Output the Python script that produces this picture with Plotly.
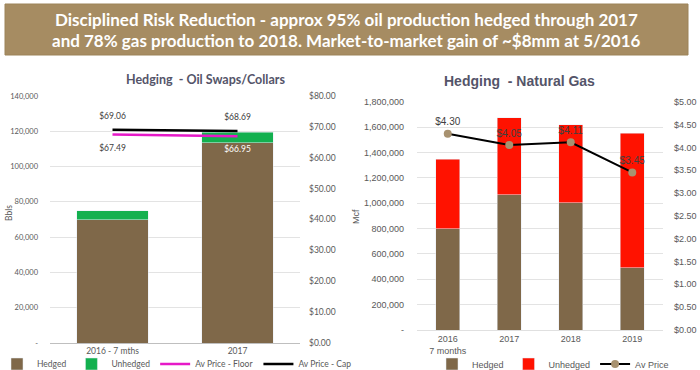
import plotly.graph_objects as go

W, H = 700, 370

# ---- data ----
oil_cats = ["2016 - 7 mths", "2017"]
oil_hedged = [70000, 113500]
oil_unhedged = [5000, 6000]
oil_floor = [67.49, 66.95]
oil_cap = [69.06, 68.69]

gas_cats = ["2016<br>7 months", "2017", "2018", "2019"]
gas_hedged = [800000, 1065000, 1005000, 490000]
gas_unhedged = [545000, 610000, 615000, 1060000]
gas_price = [4.30, 4.05, 4.11, 3.45]

oil_left_ticks = [0, 20000, 40000, 60000, 80000, 100000, 120000, 140000]
oil_left_text = ["-", "20,000", "40,000", "60,000", "80,000", "100,000", "120,000", "140,000"]
gas_left_ticks = [0, 200000, 400000, 600000, 800000, 1000000, 1200000, 1400000, 1600000, 1800000]
gas_left_text = ["-", "200,000", "400,000", "600,000", "800,000", "1,000,000",
                 "1,200,000", "1,400,000", "1,600,000", "1,800,000"]

title_lines = ["Disciplined Risk Reduction - approx 95% oil production hedged through 2017",
               "and 78% gas production to 2018. Market-to-market gain of ~$8mm at 5/2016"]

BROWN = "#7F6849"
GREEN = "#13B04F"
RED = "#FF1200"
MAGENTA = "#E619C8"
TAN = "#A68C62"
GRID = "#E3E3E3"
TICK = "#595959"

LFONT = "Lato"
RFONT = "Liberation Sans"

def px_x(p):
    return p / W

def px_y(p):
    return (H - p) / H

fig = go.Figure()

# ---- left chart ----
fig.add_trace(go.Bar(x=oil_cats, y=oil_hedged, name="Hedged", marker_color=BROWN,
                     xaxis="x", yaxis="y", legend="legend", width=0.57))
fig.add_trace(go.Bar(x=oil_cats, y=oil_unhedged, name="Unhedged", marker_color=GREEN,
                     xaxis="x", yaxis="y", legend="legend", width=0.57))
fig.add_trace(go.Scatter(x=oil_cats, y=oil_floor, name="Av Price - Floor", mode="lines",
                         line=dict(color=MAGENTA, width=2.5),
                         xaxis="x", yaxis="y2", legend="legend"))
fig.add_trace(go.Scatter(x=oil_cats, y=oil_cap, name="Av Price - Cap", mode="lines",
                         line=dict(color="black", width=2.5),
                         xaxis="x", yaxis="y2", legend="legend"))
# price labels (text only)
fig.add_trace(go.Scatter(x=oil_cats, y=oil_floor, mode="markers+text", showlegend=False,
                         marker=dict(size=14, color="rgba(0,0,0,0)"),
                         text=["$%.2f" % v for v in oil_floor], textposition="bottom center",
                         textfont=dict(family=LFONT, size=8.5, color=["#404040", "white"]),
                         hoverinfo="skip", xaxis="x", yaxis="y2"))
fig.add_trace(go.Scatter(x=oil_cats, y=oil_cap, mode="markers+text", showlegend=False,
                         marker=dict(size=12, color="rgba(0,0,0,0)"),
                         text=["$%.2f" % v for v in oil_cap], textposition="top center",
                         textfont=dict(family=LFONT, size=8.5, color="#404040"),
                         hoverinfo="skip", xaxis="x", yaxis="y2"))

# ---- right chart ----
fig.add_trace(go.Bar(x=gas_cats, y=gas_hedged, name="Hedged", marker_color=BROWN,
                     xaxis="x2", yaxis="y3", legend="legend2", width=0.39))
fig.add_trace(go.Bar(x=gas_cats, y=gas_unhedged, name="Unhedged", marker_color=RED,
                     xaxis="x2", yaxis="y3", legend="legend2", width=0.39))
fig.add_trace(go.Scatter(x=gas_cats, y=gas_price, name="Av Price", mode="lines+markers+text",
                         line=dict(color="black", width=2),
                         marker=dict(color="#A89270", size=8),
                         text=["$%.2f" % v for v in gas_price], textposition="top center",
                         textfont=dict(family=RFONT, size=10, color="#404040"),
                         xaxis="x2", yaxis="y4", legend="legend2"))

ldom_x = [px_x(50), px_x(300)]
ldom_y = [px_y(343), px_y(96)]
rdom_x = [px_x(417), px_x(663)]
rdom_y = [px_y(330), px_y(101.7)]

def ann(text, x, y, font):
    return dict(text=text, xref="paper", yref="paper", x=px_x(x), y=px_y(y),
                xanchor="center", yanchor="middle", showarrow=False, font=font)

annotations = [
    ann("<b>" + title_lines[0] + "</b>", 346, 19, dict(family=LFONT, size=17, color="white")),
    ann("<b>" + title_lines[1] + "</b>", 346, 41, dict(family=LFONT, size=17, color="white")),
    ann("<b>Hedging  - Oil Swaps/Collars</b>", 205, 79, dict(family=LFONT, size=12.5, color="#545469")),
    ann("<b>Hedging  - Natural Gas</b>", 519, 81, dict(family=RFONT, size=14, color="#545469")),
]
bbls = ann("Bbls", 9, 213, dict(family=LFONT, size=8.5, color=TICK))
bbls["textangle"] = -90
mcf = ann("Mcf", 356, 217, dict(family=RFONT, size=9, color=TICK))
mcf["textangle"] = -90
annotations += [bbls, mcf]

fig.update_layout(
    width=W, height=H, margin=dict(l=0, r=0, t=0, b=0, autoexpand=False),
    paper_bgcolor="white", plot_bgcolor="white",
    barmode="stack",
    xaxis=dict(domain=ldom_x, anchor="y", showgrid=False, showline=True, linecolor="#BFBFBF",
               tickfont=dict(family=LFONT, size=8.5, color=TICK), ticks="", automargin=False),
    yaxis=dict(domain=ldom_y, anchor="x", range=[0, 140000], tickvals=oil_left_ticks,
               ticktext=oil_left_text, gridcolor=GRID, zeroline=False, automargin=False,
               tickfont=dict(family=LFONT, size=7.5, color=TICK), ticklabelstandoff=11),
    yaxis2=dict(overlaying="y", side="right", anchor="x", range=[0, 80], dtick=10,
                tickformat="$.2f", showgrid=False, zeroline=False, automargin=False,
                tickfont=dict(family=LFONT, size=8.5, color=TICK), ticklabelstandoff=8),
    xaxis2=dict(domain=rdom_x, anchor="y3", showgrid=False, showline=True, linecolor="#E0E0E0",
                tickfont=dict(family=RFONT, size=9, color=TICK), ticks="", automargin=False),
    yaxis3=dict(domain=rdom_y, anchor="x2", range=[0, 1800000], tickvals=gas_left_ticks,
                ticktext=gas_left_text, gridcolor=GRID, zeroline=False, automargin=False,
                tickfont=dict(family=RFONT, size=9, color=TICK), ticklabelstandoff=12),
    yaxis4=dict(overlaying="y3", side="right", anchor="x2", range=[0, 5], dtick=0.5,
                tickformat="$.2f", showgrid=False, zeroline=False, automargin=False,
                tickfont=dict(family=RFONT, size=9, color=TICK), ticklabelstandoff=10),
    legend=dict(orientation="h", x=px_x(177), xanchor="center", y=px_y(364), yanchor="middle",
                font=dict(family=LFONT, size=8.5, color=TICK), traceorder="normal",
                itemwidth=30, tracegroupgap=0, bgcolor="rgba(0,0,0,0)"),
    legend2=dict(orientation="h", x=px_x(553), xanchor="center", y=px_y(364), yanchor="middle",
                 font=dict(family=RFONT, size=9, color=TICK), traceorder="normal",
                 itemwidth=30, bgcolor="rgba(0,0,0,0)"),
    shapes=[dict(type="rect", xref="paper", yref="paper", x0=px_x(5), x1=px_x(688),
                 y0=px_y(55), y1=px_y(4), fillcolor=TAN, line=dict(color="#9C8358", width=1),
                 layer="below")],
    annotations=annotations,
)

fig.write_html("out.html", config={"displayModeBar": False},
               post_script="document.body.style.margin='0';document.body.style.padding='0';")
